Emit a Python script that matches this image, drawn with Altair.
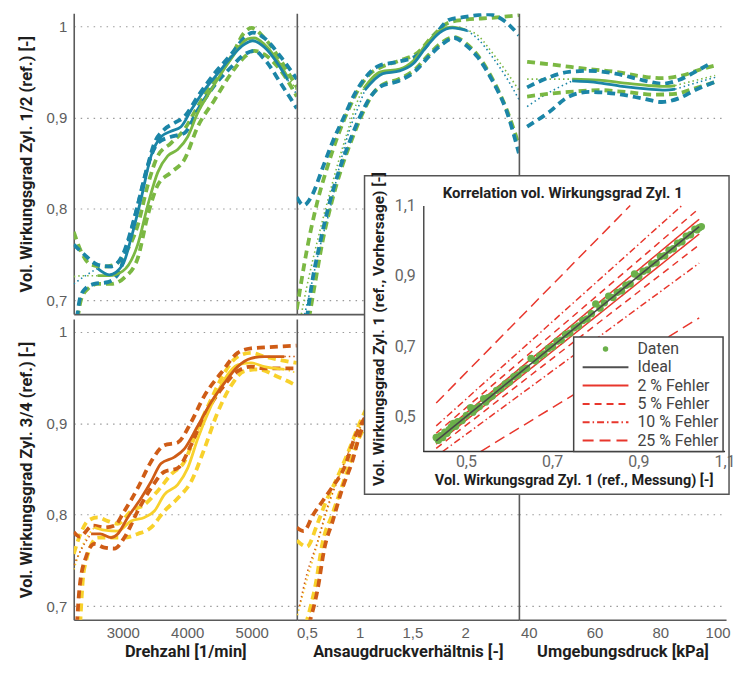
import altair as alt
import pandas as pd

# ---------------- axes / categories ----------------
Y_DOMAIN = [0.685, 1.014]
Y_TICKS = [0.7, 0.8, 0.9, 1.0]
RPM_DOMAIN = [2240, 5700]
RPM_TICKS = [3000, 4000, 5000]
PR_DOMAIN = [0.405, 2.51]
PR_TICKS = [0.5, 1.0, 1.5, 2.0]
KPA_DOMAIN = [37, 100]
KPA_TICKS = [40, 60, 80, 100]

SERIES = ["Zyl. 1", "Zyl. 2", "Zyl. 3", "Zyl. 4"]
SERIES_COLORS = ["#1b85a7", "#7bb843", "#cf5c16", "#f8d12c"]

TITLE_Y_TOP = "Vol. Wirkungsgrad Zyl. 1/2 (ref.) [-]"
TITLE_Y_BOTTOM = "Vol. Wirkungsgrad Zyl. 3/4 (ref.) [-]"
TITLE_X = ["Drehzahl [1/min]", "Ansaugdruckverhältnis [-]", "Umgebungsdruck [kPa]"]

# ---------------- panel 1: Drehzahl, Zyl. 1/2 ----------------
P1_Z1_MID = [(2610, 0.735), (2790, 0.728), (3000, 0.739), (3130, 0.768), (3284, 0.811), (3440, 0.858),
             (3594, 0.879), (3749, 0.885), (3904, 0.89), (4060, 0.908), (4266, 0.93), (4473, 0.948),
             (4680, 0.966), (4886, 0.98), (5015, 0.984), (5196, 0.977), (5403, 0.959), (5560, 0.941)]
P1_Z1_EXT_L = [(2240, 0.718), (2400, 0.726), (2610, 0.735)]
P1_Z1_EXT_R = [(5560, 0.941), (5700, 0.925)]
P1_Z1_UP = [(2240, 0.761), (2406, 0.75), (2612, 0.739), (2819, 0.737), (3000, 0.75), (3181, 0.79),
            (3336, 0.833), (3491, 0.872), (3646, 0.887), (3801, 0.894), (3956, 0.901), (4163, 0.923),
            (4421, 0.948), (4680, 0.969), (4886, 0.987), (5015, 0.993), (5196, 0.987), (5455, 0.966),
            (5700, 0.942)]
P1_Z1_LO = [(2290, 0.68), (2330, 0.70), (2406, 0.712), (2560, 0.718), (2767, 0.72), (2922, 0.728),
            (3078, 0.761), (3232, 0.804), (3388, 0.847), (3543, 0.872), (3749, 0.879), (3956, 0.883),
            (4163, 0.908), (4421, 0.935), (4680, 0.955), (4886, 0.969), (5041, 0.973), (5196, 0.964),
            (5455, 0.937), (5700, 0.91)]
P1_Z2_MID = [(2610, 0.727), (2790, 0.727), (3000, 0.732), (3232, 0.761), (3388, 0.804), (3543, 0.84),
             (3698, 0.858), (3853, 0.865), (4008, 0.879), (4163, 0.905), (4370, 0.93), (4680, 0.964),
             (4938, 0.986), (5041, 0.987), (5196, 0.98), (5403, 0.962), (5560, 0.944)]
P1_Z2_EXT_L = [(2240, 0.726), (2400, 0.727), (2610, 0.727)]
P1_Z2_EXT_R = [(5560, 0.944), (5700, 0.93)]
P1_Z2_UP = [(2240, 0.775), (2350, 0.754), (2509, 0.739), (2716, 0.737), (2871, 0.739), (3026, 0.75),
            (3232, 0.782), (3388, 0.826), (3543, 0.858), (3749, 0.872), (3956, 0.887), (4163, 0.912),
            (4421, 0.941), (4680, 0.966), (4886, 0.993), (5000, 0.998), (5196, 0.987), (5455, 0.962),
            (5700, 0.933)]
P1_Z2_LO = [(2300, 0.68), (2350, 0.70), (2450, 0.712), (2612, 0.718), (2819, 0.718), (3026, 0.725),
            (3232, 0.746), (3388, 0.793), (3543, 0.826), (3749, 0.84), (3956, 0.854), (4163, 0.89),
            (4421, 0.919), (4680, 0.948), (4886, 0.966), (5041, 0.973), (5196, 0.969), (5455, 0.951),
            (5700, 0.923)]

# ---------------- panel 2: Ansaugdruckverhaeltnis, Zyl. 1/2 ----------------
P2_Z1_MID = [(1.05, 0.93), (1.22, 0.948), (1.38, 0.951), (1.51, 0.959), (1.63, 0.977), (1.76, 0.993),
             (1.88, 0.998), (2.02, 0.995)]
P2_Z1_EXT_L = [(0.47, 0.68), (0.53, 0.71), (0.62, 0.757), (0.72, 0.80), (0.81, 0.847), (0.9, 0.885),
               (1.0, 0.915), (1.05, 0.93)]
P2_Z1_EXT_R = [(2.02, 0.995), (2.13, 0.985), (2.26, 0.966), (2.39, 0.944), (2.51, 0.92)]
P2_Z1_UP = [(0.405, 0.813), (0.47, 0.804), (0.55, 0.815), (0.65, 0.845), (0.75, 0.875), (0.85, 0.9),
            (0.95, 0.925), (1.05, 0.943), (1.19, 0.957), (1.37, 0.961), (1.56, 0.969), (1.72, 0.991),
            (1.85, 1.007), (2.0, 1.01), (2.22, 1.013), (2.38, 1.005), (2.51, 0.99)]
P2_Z1_LO = [(0.5, 0.68), (0.55, 0.72), (0.62, 0.76), (0.7, 0.8), (0.8, 0.84), (0.9, 0.872), (1.0, 0.9),
            (1.1, 0.922), (1.2, 0.934), (1.37, 0.94), (1.53, 0.951), (1.65, 0.966), (1.78, 0.98),
            (1.9, 0.987), (2.0, 0.98), (2.12, 0.966), (2.26, 0.94), (2.39, 0.908), (2.51, 0.861)]
P2_Z2_MID = [(1.04, 0.932), (1.2, 0.95), (1.38, 0.953), (1.51, 0.962), (1.63, 0.98), (1.76, 0.995),
             (1.88, 0.999), (2.0, 0.996)]
P2_Z2_EXT_L = [(0.44, 0.68), (0.5, 0.715), (0.6, 0.765), (0.7, 0.81), (0.8, 0.852), (0.9, 0.89),
               (0.97, 0.915), (1.04, 0.932)]
P2_Z2_EXT_R = [(2.0, 0.996), (2.12, 0.99), (2.25, 0.972), (2.38, 0.952), (2.51, 0.93)]
P2_Z2_UP = [(0.405, 0.69), (0.5, 0.755), (0.6, 0.808), (0.7, 0.848), (0.8, 0.882), (0.9, 0.91),
            (1.0, 0.933), (1.1, 0.948), (1.2, 0.955), (1.37, 0.962), (1.55, 0.971), (1.7, 0.99),
            (1.85, 1.004), (2.0, 1.007), (2.25, 1.009), (2.51, 1.012)]
P2_Z2_LO = [(0.52, 0.68), (0.58, 0.72), (0.65, 0.765), (0.73, 0.805), (0.83, 0.845), (0.93, 0.877),
            (1.03, 0.905), (1.12, 0.925), (1.22, 0.936), (1.37, 0.942), (1.53, 0.953), (1.65, 0.968),
            (1.78, 0.982), (1.9, 0.988), (2.0, 0.982), (2.12, 0.968), (2.26, 0.942), (2.39, 0.91),
            (2.51, 0.87)]

# ---------------- panel 3: Umgebungsdruck, Zyl. 1/2 ----------------
P3_Z1_MID = [(53.2, 0.94), (61.3, 0.938), (68.4, 0.934), (76.5, 0.931), (81.5, 0.93), (84.5, 0.931)]
P3_Z1_EXT_L = [(39.5, 0.912), (45.0, 0.925), (49.1, 0.933), (53.2, 0.94)]
P3_Z1_EXT_R = [(84.5, 0.931), (90.0, 0.937), (96.7, 0.944)]
P3_Z1_UP = [(39.5, 0.933), (46.2, 0.944), (52.2, 0.95), (58.3, 0.951), (66.4, 0.948), (74.5, 0.941),
            (80.5, 0.937), (85.6, 0.941), (90.6, 0.95), (95.7, 0.96)]
P3_Z1_LO = [(39.5, 0.89), (46.2, 0.906), (52.2, 0.923), (58.3, 0.928), (66.4, 0.926), (74.5, 0.921),
            (80.5, 0.917), (85.6, 0.921), (90.6, 0.93), (96.7, 0.939)]
P3_Z2_MID = [(53.2, 0.942), (61.3, 0.941), (68.4, 0.938), (76.5, 0.935), (81.5, 0.934), (84.5, 0.935)]
P3_Z2_EXT_L = [(39.5, 0.942), (46.0, 0.942), (53.2, 0.942)]
P3_Z2_EXT_R = [(84.5, 0.935), (90.0, 0.94), (96.7, 0.946)]
P3_Z2_UP = [(39.5, 0.961), (49.1, 0.957), (58.3, 0.953), (66.4, 0.95), (74.5, 0.945), (80.5, 0.943),
            (86.6, 0.946), (92.6, 0.953), (96.7, 0.957)]
P3_Z2_LO = [(39.5, 0.923), (46.2, 0.926), (52.2, 0.928), (61.3, 0.93), (69.3, 0.928), (78.5, 0.925),
            (84.5, 0.926), (90.6, 0.932), (96.7, 0.939)]

# ---------------- panel 4: Drehzahl, Zyl. 3/4 ----------------
P4_Z3_MID = [(2509, 0.779), (2650, 0.779), (2819, 0.775), (2922, 0.779), (3078, 0.797), (3284, 0.818),
             (3439, 0.836), (3594, 0.856), (3801, 0.863), (3956, 0.872), (4163, 0.897), (4370, 0.923),
             (4576, 0.944), (4783, 0.962), (4990, 0.971), (5196, 0.973), (5506, 0.973)]
P4_Z3_EXT_L = [(2240, 0.745), (2380, 0.765), (2509, 0.779)]
P4_Z3_EXT_R = [(5506, 0.973), (5700, 0.973)]
P4_Z3_UP = [(2240, 0.781), (2330, 0.776), (2535, 0.788), (2716, 0.786), (2871, 0.788), (3026, 0.804),
            (3232, 0.829), (3439, 0.858), (3646, 0.876), (3853, 0.879), (4059, 0.901), (4266, 0.93),
            (4525, 0.955), (4783, 0.977), (4990, 0.982), (5196, 0.983), (5700, 0.985)]
P4_Z3_LO = [(2290, 0.68), (2330, 0.72), (2432, 0.754), (2561, 0.768), (2716, 0.764), (2871, 0.763),
            (3026, 0.775), (3232, 0.804), (3439, 0.829), (3646, 0.847), (3853, 0.851), (4059, 0.876),
            (4266, 0.908), (4525, 0.937), (4783, 0.957), (4990, 0.962), (5196, 0.96), (5700, 0.96)]
P4_Z4_MID = [(2561, 0.786), (2716, 0.783), (2922, 0.782), (3129, 0.793), (3336, 0.797), (3491, 0.804),
             (3646, 0.822), (3853, 0.833), (4008, 0.851), (4163, 0.883), (4370, 0.919), (4576, 0.948),
             (4783, 0.964), (4990, 0.966), (5196, 0.962), (5506, 0.959)]
P4_Z4_EXT_L = [(2240, 0.74), (2400, 0.77), (2561, 0.786)]
P4_Z4_EXT_R = [(5506, 0.959), (5700, 0.955)]
P4_Z4_UP = [(2240, 0.757), (2350, 0.78), (2457, 0.793), (2612, 0.797), (2767, 0.793), (2922, 0.79),
            (3129, 0.804), (3336, 0.811), (3543, 0.826), (3749, 0.844), (3956, 0.858), (4163, 0.894),
            (4370, 0.926), (4576, 0.955), (4783, 0.973), (4990, 0.977), (5196, 0.973), (5700, 0.966)]
P4_Z4_LO = [(2340, 0.68), (2400, 0.74), (2612, 0.775), (2819, 0.775), (3026, 0.775), (3232, 0.779),
            (3439, 0.786), (3646, 0.804), (3853, 0.818), (4059, 0.836), (4266, 0.872), (4473, 0.912),
            (4680, 0.941), (4886, 0.957), (5093, 0.959), (5403, 0.951), (5700, 0.941)]

# ---------------- panel 5: Ansaugdruckverhaeltnis, Zyl. 3/4 ----------------
P5_Z3_EXT = [(0.43, 0.70), (0.5, 0.735), (0.6, 0.77), (0.7, 0.81), (0.8, 0.84), (0.9, 0.87),
             (1.0, 0.895), (1.1, 0.915)]
P5_Z3_UP = [(0.405, 0.786), (0.47, 0.782), (0.56, 0.80), (0.65, 0.815), (0.74, 0.83), (0.85, 0.85),
            (0.96, 0.886), (1.07, 0.91), (1.2, 0.93)]
P5_Z3_LO = [(0.52, 0.68), (0.6, 0.717), (0.67, 0.765), (0.745, 0.793), (0.84, 0.83), (0.93, 0.858),
            (1.0, 0.887), (1.1, 0.91)]
P5_Z4_EXT = [(0.41, 0.69), (0.48, 0.72), (0.58, 0.76), (0.68, 0.8), (0.78, 0.835), (0.88, 0.865),
             (1.0, 0.893), (1.1, 0.913)]
P5_Z4_UP = [(0.405, 0.772), (0.5, 0.765), (0.6, 0.79), (0.68, 0.814), (0.77, 0.836), (0.89, 0.868),
            (1.0, 0.9), (1.08, 0.919), (1.15, 0.93)]
P5_Z4_LO = [(0.49, 0.68), (0.585, 0.725), (0.65, 0.77), (0.74, 0.8), (0.83, 0.83), (0.92, 0.86),
            (1.0, 0.885), (1.1, 0.905)]

# ---------------- inset: correlation ----------------
INSET_DOMAIN = [0.4, 1.1]
INSET_TICKS = [0.5, 0.7, 0.9, 1.1]
INSET_TITLE = "Korrelation vol. Wirkungsgrad Zyl. 1"
INSET_XTITLE = "Vol. Wirkungsgrad Zyl. 1 (ref., Messung) [-]"
INSET_YTITLE = "Vol. Wirkungsgrad Zyl. 1 (ref., Vorhersage) [-]"
MEAS = [0.43, 0.435, 0.44, 0.445, 0.45, 0.455, 0.46, 0.465, 0.47, 0.475, 0.48, 0.49, 0.50, 0.51, 0.515,
        0.52, 0.53, 0.54, 0.545, 0.55, 0.56, 0.57, 0.58, 0.59, 0.60, 0.61, 0.62, 0.63, 0.64, 0.65, 0.66,
        0.67, 0.68, 0.69, 0.70, 0.71, 0.72, 0.73, 0.74, 0.75, 0.76, 0.77, 0.78, 0.79, 0.80, 0.81, 0.82,
        0.83, 0.84, 0.85, 0.86, 0.87, 0.88, 0.89, 0.90, 0.91, 0.92, 0.93, 0.94, 0.95, 0.96, 0.97, 0.98,
        0.99, 1.00, 1.01, 1.02, 1.03, 1.035, 1.04, 1.045]
PRED = [0.44, 0.432, 0.445, 0.44, 0.455, 0.452, 0.462, 0.47, 0.48, 0.472, 0.485, 0.488, 0.503, 0.525,
        0.512, 0.522, 0.528, 0.55, 0.541, 0.553, 0.558, 0.574, 0.579, 0.592, 0.598, 0.613, 0.618, 0.632,
        0.637, 0.665, 0.658, 0.672, 0.678, 0.693, 0.698, 0.714, 0.717, 0.733, 0.737, 0.752, 0.757,
        0.773, 0.777, 0.792, 0.82, 0.808, 0.823, 0.842, 0.838, 0.853, 0.857, 0.873, 0.877, 0.905,
        0.898, 0.913, 0.917, 0.934, 0.937, 0.955, 0.957, 0.973, 0.977, 0.993, 0.997, 1.013, 1.017,
        1.033, 1.031, 1.037, 1.04]
IDEAL = [(0.43, 0.43), (1.04, 1.04)]
ERR2_UP = [(0.43, 0.439), (1.04, 1.061)]
ERR2_LO = [(0.43, 0.421), (1.04, 1.019)]
ERR5_UP = [(0.43, 0.452), (1.04, 1.092)]
ERR5_LO = [(0.43, 0.409), (1.04, 0.988)]
ERR10_UP = [(0.43, 0.473), (1.0, 1.1)]
ERR10_LO = [(0.445, 0.4), (1.04, 0.936)]
ERR25_UP = [(0.43, 0.538), (0.88, 1.1)]
ERR25_LO = [(0.533, 0.4), (1.04, 0.78)]

LEGEND_LABELS = ["Daten", "Ideal", "2 % Fehler", "5 % Fehler", "10 % Fehler", "25 % Fehler"]
LEGEND_COLORS = ["#6bb04a", "#505050", "#e8362c", "#e8362c", "#e8362c", "#e8362c"]
LEGEND_DASH = [[1, 0], [1, 0], [1, 0], [7, 5], [7, 3, 1.5, 3], [11, 6]]

# ---------------- styling ----------------
NARROW = "'Liberation Sans Narrow', 'Roboto', sans-serif"
LABEL_FONT = "Liberation Sans"
LABEL_EXPR = "replace(format(datum.value, '~g'), '.', ',')"
STYLES = [("ext", dict(strokeWidth=1.6, strokeDash=[1.5, 3])),
          ("band", dict(strokeWidth=3.8, strokeDash=[8, 5])),
          ("mid", dict(strokeWidth=2.8))]
PANEL_H = 302


def lines_df(entries):
    rows = []
    for series, kind, name, pts in entries:
        for i, (x, y) in enumerate(pts):
            rows.append({"series": series, "kind": kind, "line": name, "i": i, "x": x, "y": y})
    return pd.DataFrame(rows)


def encodings(xdom, xticks, xtitle, ytitle, bottom, left, flush=False):
    x_axis = alt.Axis(values=xticks, labels=bottom, title=(xtitle if bottom else None), grid=False,
                      ticks=False, labelExpr=LABEL_EXPR, labelFlush=flush, labelFlushOffset=4,
                      labelOverlap=False, labelPadding=6, titlePadding=3, zindex=0)
    y_axis = alt.Axis(values=Y_TICKS, labels=left, title=(ytitle if left else None), grid=True,
                      ticks=False, labelExpr=LABEL_EXPR, labelPadding=7, titlePadding=12,
                      labelOverlap=False, zindex=0)
    x = alt.X("x:Q", scale=alt.Scale(domain=xdom, nice=False, zero=False), axis=x_axis)
    y = alt.Y("y:Q", scale=alt.Scale(domain=Y_DOMAIN, nice=False, zero=False), axis=y_axis)
    return x, y


def panel(entries, xdom, xticks, width, xtitle, ytitle, bottom, left):
    x, y = encodings(xdom, xticks, xtitle, ytitle, bottom, left)
    color = alt.Color("series:N", scale=alt.Scale(domain=SERIES, range=SERIES_COLORS), legend=None)
    df = lines_df(entries)
    layers = []
    for kind, props in STYLES:
        sub = df[df["kind"] == kind]
        if len(sub):
            layers.append(alt.Chart(sub).mark_line(clip=True, interpolate="monotone", **props)
                          .encode(x=x, y=y, color=color, detail="line:N"))
    return alt.layer(*layers).properties(width=width, height=PANEL_H)


p1 = panel([
    ("Zyl. 2", "band", "p1z2u", P1_Z2_UP), ("Zyl. 2", "band", "p1z2l", P1_Z2_LO),
    ("Zyl. 1", "band", "p1z1u", P1_Z1_UP), ("Zyl. 1", "band", "p1z1l", P1_Z1_LO),
    ("Zyl. 2", "ext", "p1z2el", P1_Z2_EXT_L), ("Zyl. 2", "ext", "p1z2er", P1_Z2_EXT_R),
    ("Zyl. 1", "ext", "p1z1el", P1_Z1_EXT_L), ("Zyl. 1", "ext", "p1z1er", P1_Z1_EXT_R),
    ("Zyl. 2", "mid", "p1z2m", P1_Z2_MID), ("Zyl. 1", "mid", "p1z1m", P1_Z1_MID),
], RPM_DOMAIN, RPM_TICKS, 224, TITLE_X[0], TITLE_Y_TOP, False, True)

p2 = panel([
    ("Zyl. 2", "band", "p2z2u", P2_Z2_UP), ("Zyl. 2", "band", "p2z2l", P2_Z2_LO),
    ("Zyl. 1", "band", "p2z1u", P2_Z1_UP), ("Zyl. 1", "band", "p2z1l", P2_Z1_LO),
    ("Zyl. 2", "ext", "p2z2el", P2_Z2_EXT_L), ("Zyl. 2", "ext", "p2z2er", P2_Z2_EXT_R),
    ("Zyl. 1", "ext", "p2z1el", P2_Z1_EXT_L), ("Zyl. 1", "ext", "p2z1er", P2_Z1_EXT_R),
    ("Zyl. 2", "mid", "p2z2m", P2_Z2_MID), ("Zyl. 1", "mid", "p2z1m", P2_Z1_MID),
], PR_DOMAIN, PR_TICKS, 223, TITLE_X[1], None, False, False)

p3 = panel([
    ("Zyl. 2", "band", "p3z2u", P3_Z2_UP), ("Zyl. 2", "band", "p3z2l", P3_Z2_LO),
    ("Zyl. 1", "band", "p3z1u", P3_Z1_UP), ("Zyl. 1", "band", "p3z1l", P3_Z1_LO),
    ("Zyl. 2", "ext", "p3z2el", P3_Z2_EXT_L), ("Zyl. 2", "ext", "p3z2er", P3_Z2_EXT_R),
    ("Zyl. 1", "ext", "p3z1el", P3_Z1_EXT_L), ("Zyl. 1", "ext", "p3z1er", P3_Z1_EXT_R),
    ("Zyl. 2", "mid", "p3z2m", P3_Z2_MID), ("Zyl. 1", "mid", "p3z1m", P3_Z1_MID),
], KPA_DOMAIN, KPA_TICKS, 208, TITLE_X[2], None, False, False)

p4 = panel([
    ("Zyl. 4", "band", "p4z4u", P4_Z4_UP), ("Zyl. 4", "band", "p4z4l", P4_Z4_LO),
    ("Zyl. 3", "band", "p4z3u", P4_Z3_UP), ("Zyl. 3", "band", "p4z3l", P4_Z3_LO),
    ("Zyl. 4", "ext", "p4z4el", P4_Z4_EXT_L), ("Zyl. 4", "ext", "p4z4er", P4_Z4_EXT_R),
    ("Zyl. 3", "ext", "p4z3el", P4_Z3_EXT_L), ("Zyl. 3", "ext", "p4z3er", P4_Z3_EXT_R),
    ("Zyl. 4", "mid", "p4z4m", P4_Z4_MID), ("Zyl. 3", "mid", "p4z3m", P4_Z3_MID),
], RPM_DOMAIN, RPM_TICKS, 224, TITLE_X[0], TITLE_Y_BOTTOM, True, True)

p5 = panel([
    ("Zyl. 4", "band", "p5z4u", P5_Z4_UP), ("Zyl. 4", "band", "p5z4l", P5_Z4_LO),
    ("Zyl. 3", "band", "p5z3u", P5_Z3_UP), ("Zyl. 3", "band", "p5z3l", P5_Z3_LO),
    ("Zyl. 4", "ext", "p5z4e", P5_Z4_EXT), ("Zyl. 3", "ext", "p5z3e", P5_Z3_EXT),
], PR_DOMAIN, PR_TICKS, 223, TITLE_X[1], None, True, False)

# ---- panel 6 (empty) with the correlation inset drawn on top ----
x6, y6 = encodings(KPA_DOMAIN, KPA_TICKS, TITLE_X[2], None, True, False, flush=True)
p6_base = alt.Chart(pd.DataFrame({"x": KPA_DOMAIN, "y": Y_DOMAIN})).mark_point(opacity=0, size=1).encode(x=x6, y=y6)

ix = alt.X("x:Q", scale=alt.Scale(domain=INSET_DOMAIN, range=[-96, 207], nice=False, zero=False), axis=None)
iy = alt.Y("y:Q", scale=alt.Scale(domain=INSET_DOMAIN, range=[133, -114], nice=False, zero=False),
           axis=alt.Axis(orient="left", offset=96, values=INSET_TICKS, title=INSET_YTITLE, grid=False,
                         ticks=False, labelExpr=LABEL_EXPR, labelOverlap=False,
                         labelFont=NARROW, labelFontSize=16, labelColor="#666", labelPadding=8,
                         titleFontSize=15.5, titlePadding=8, domainColor="#333", domainWidth=1.3, zindex=1))

one = alt.Data(values=[{}])
inset_bg = alt.Chart(one).mark_rect(fill="white", stroke="#555", strokeWidth=1.5).encode(
    x=alt.value(-155), x2=alt.value(211), y=alt.value(-144), y2=alt.value(176))
inset_title = alt.Chart(one).mark_text(font=NARROW, fontWeight="bold", fontSize=15, color="#222").encode(
    x=alt.value(44), y=alt.value(-127), text=alt.value(INSET_TITLE))

# hand-drawn x axis of the inset (domain line, tick labels, title) through the inset scale
xaxis_line = alt.Chart(pd.DataFrame({"x": [INSET_DOMAIN[0]], "x2": [INSET_DOMAIN[1]], "y": [INSET_DOMAIN[0]]})
                       ).mark_rule(color="#333", strokeWidth=1.3).encode(x=ix, x2="x2:Q", y=iy)
xaxis_labels = alt.Chart(pd.DataFrame({"x": INSET_TICKS, "y": [INSET_DOMAIN[0]] * len(INSET_TICKS)})
                         ).transform_calculate(lbl="replace(format(datum.x, '~g'), '.', ',')").mark_text(
    font=NARROW, fontSize=16, color="#666", baseline="middle", dy=11).encode(x=ix, y=iy, text="lbl:N")
xaxis_title = alt.Chart(pd.DataFrame({"x": [sum(INSET_DOMAIN) / 2], "y": [INSET_DOMAIN[0]]})).mark_text(
    font=NARROW, fontWeight="bold", fontSize=14.5, color="#1e1e1e", baseline="middle", dy=30
).encode(x=ix, y=iy, text=alt.value(INSET_XTITLE))

err_entries = [("25 % Fehler", "e25u", ERR25_UP), ("25 % Fehler", "e25l", ERR25_LO),
               ("10 % Fehler", "e10u", ERR10_UP), ("10 % Fehler", "e10l", ERR10_LO),
               ("5 % Fehler", "e5u", ERR5_UP), ("5 % Fehler", "e5l", ERR5_LO),
               ("2 % Fehler", "e2u", ERR2_UP), ("2 % Fehler", "e2l", ERR2_LO)]
err_df = pd.DataFrame([{"kind": k, "line": n, "x": x, "y": y} for k, n, pts in err_entries for x, y in pts])
err_lines = alt.Chart(err_df).mark_line(strokeWidth=1.5).encode(
    x=ix, y=iy, detail="line:N",
    color=alt.Color("kind:N", scale=alt.Scale(domain=LEGEND_LABELS, range=LEGEND_COLORS), legend=None),
    strokeDash=alt.StrokeDash("kind:N", scale=alt.Scale(domain=LEGEND_LABELS, range=LEGEND_DASH), legend=None))
pts = alt.Chart(pd.DataFrame({"x": MEAS, "y": PRED})).mark_circle(size=55, color="#6bb04a", opacity=1).encode(
    x=ix, y=iy)
ideal = alt.Chart(pd.DataFrame(IDEAL, columns=["x", "y"])).mark_line(color="#484848", strokeWidth=1.6).encode(
    x=ix, y=iy)
inset = alt.layer(inset_bg, inset_title, err_lines, pts, ideal, xaxis_line, xaxis_labels, xaxis_title)

leg_df = pd.DataFrame({"label": LEGEND_LABELS})
ly = alt.Y("label:N", scale=alt.Scale(type="point", domain=LEGEND_LABELS, range=[30, 122], padding=0), axis=None)
leg_box = alt.Chart(one).mark_rect(fill="white", stroke="#444", strokeWidth=1.5).encode(
    x=alt.value(55), x2=alt.value(205), y=alt.value(18), y2=alt.value(133))
leg_rules = alt.Chart(leg_df).transform_filter("datum.label != 'Daten'").mark_rule(strokeWidth=2).encode(
    x=alt.value(64), x2=alt.value(110), y=ly,
    color=alt.Color("label:N", scale=alt.Scale(domain=LEGEND_LABELS, range=LEGEND_COLORS), legend=None),
    strokeDash=alt.StrokeDash("label:N", scale=alt.Scale(domain=LEGEND_LABELS, range=LEGEND_DASH), legend=None))
leg_dot = alt.Chart(leg_df).transform_filter("datum.label == 'Daten'").mark_circle(
    size=30, color="#6bb04a", opacity=1).encode(x=alt.value(87), y=ly)
leg_text = alt.Chart(leg_df).mark_text(align="left", baseline="middle", font=NARROW, fontSize=16,
                                       color="#444").encode(x=alt.value(119), y=ly, text="label:N")
legend = alt.layer(leg_box, leg_rules, leg_dot, leg_text)

p6 = alt.layer(p6_base, inset, legend).resolve_scale(
    x="independent", y="independent", color="independent", strokeDash="independent"
).properties(width=208, height=PANEL_H)

chart = alt.concat(p1, p2, p3, p4, p5, p6, columns=3, spacing={"row": 5, "column": 0},
                   bounds="flush").properties(
    padding={"left": 9, "top": 3, "right": 0, "bottom": 0}
).configure_view(stroke="transparent").configure_axis(
    domainColor="#5a5a5a", domainWidth=1.6, gridColor="#9a9a9a", gridDash=[1.5, 5], gridWidth=1.2,
    labelFont=LABEL_FONT, labelFontSize=15, labelColor="#5e5e5e",
    titleFont=NARROW, titleFontWeight="bold", titleFontSize=16.5, titleColor="#1e1e1e"
)

chart.save("out.html", embed_options={"renderer": "svg", "actions": False})
